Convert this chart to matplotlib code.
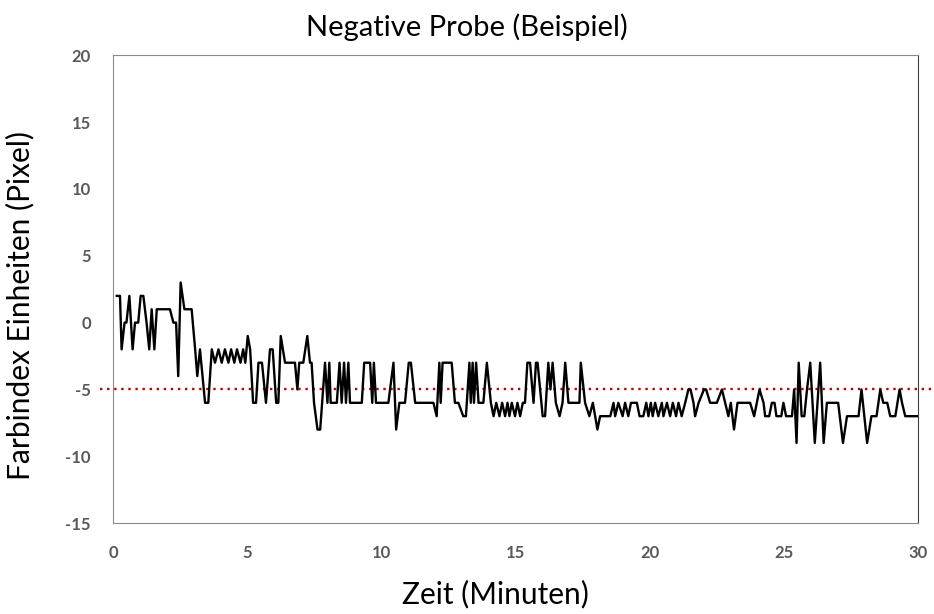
import matplotlib as mpl
mpl.use('Agg')
import matplotlib.pyplot as plt
import numpy as np

# vertices: time in minutes, colour index in pixel units
zeit = [
    0.14, 0.26, 0.32, 0.43, 0.50, 0.61, 0.73, 0.82, 0.94, 1.03, 1.13, 1.25, 1.35, 1.44, 1.54, 1.63,
    2.12, 2.25, 2.35, 2.43, 2.52, 2.66, 2.93, 3.06, 3.14, 3.24, 3.43, 3.55, 3.68, 3.80, 3.93, 4.05,
    4.17, 4.30, 4.40, 4.52, 4.62, 4.75, 4.85, 4.93, 5.02, 5.11, 5.22, 5.33, 5.42, 5.55, 5.70, 5.85,
    5.95, 6.08, 6.16, 6.25, 6.41, 6.78, 6.87, 6.94, 7.09, 7.24, 7.34, 7.40, 7.49, 7.62, 7.72, 7.90,
    7.99, 8.06, 8.11, 8.34, 8.44, 8.52, 8.61, 8.68, 8.77, 8.83, 9.27, 9.36, 9.58, 9.66, 9.72, 9.80,
    10.26, 10.45, 10.55, 10.67, 10.88, 11.02, 11.10, 11.26, 11.94, 12.06, 12.16, 12.21, 12.28, 12.62,
    12.74, 12.87, 13.05, 13.15, 13.28, 13.33, 13.40, 13.45, 13.53, 13.62, 13.80, 13.93, 14.08, 14.18,
    14.28, 14.40, 14.50, 14.61, 14.70, 14.77, 14.86, 14.98, 15.07, 15.17, 15.27, 15.35, 15.44, 15.54,
    15.67, 15.76, 15.82, 16.01, 16.10, 16.22, 16.30, 16.38, 16.50, 16.64, 16.75, 16.85, 16.97, 17.38,
    17.43, 17.59, 17.75, 17.88, 18.05, 18.15, 18.53, 18.65, 18.71, 18.83, 18.99, 19.08, 19.20, 19.30,
    19.52, 19.62, 19.76, 19.87, 19.95, 20.04, 20.11, 20.20, 20.32, 20.45, 20.51, 20.64, 20.76, 20.86,
    20.98, 21.07, 21.19, 21.32, 21.44, 21.52, 21.63, 21.69, 21.82, 22.02, 22.10, 22.25, 22.50, 22.69,
    22.81, 22.93, 23.02, 23.14, 23.27, 23.74, 23.89, 23.99, 24.09, 24.24, 24.30, 24.45, 24.55, 24.65,
    24.72, 24.90, 24.98, 25.08, 25.30, 25.38, 25.47, 25.55, 25.66, 25.76, 25.86, 25.98, 26.15, 26.35,
    26.48, 26.60, 26.70, 27.02, 27.20, 27.35, 27.78, 27.89, 28.10, 28.26, 28.45, 28.59, 28.70, 28.85,
    28.96, 29.15, 29.31, 29.40, 29.52, 29.95,
]
farbindex = [
    2, 2, -2, 0, 0, 2, -2, 0, 0, 2, 2, 0, -2, 1, -2, 1,
    1, 0, 0, -4, 3, 1, 1, -2, -4, -2, -6, -6, -2, -3, -2, -3,
    -2, -3, -2, -3, -2, -3, -2, -3, -1, -2, -6, -6, -3, -3, -6, -2,
    -2, -6, -6, -1, -3, -3, -5, -3, -3, -1, -3, -3, -6, -8, -8, -3,
    -6, -3, -6, -6, -3, -6, -3, -6, -3, -6, -6, -3, -3, -6, -3, -6,
    -6, -3, -8, -6, -6, -3, -3, -6, -6, -7, -3, -6, -3, -3,
    -6, -6, -7, -7, -3, -6, -3, -6, -3, -6, -6, -3, -6, -7,
    -6, -7, -6, -7, -6, -7, -6, -7, -6, -7, -6, -6, -3, -3,
    -6, -3, -3, -7, -7, -3, -5, -3, -6, -7, -6, -3, -6, -6,
    -3, -6, -7, -6, -8, -7, -7, -6, -7, -6, -7, -6, -7, -6,
    -6, -7, -7, -6, -7, -6, -7, -6, -7, -6, -7, -6, -7, -6,
    -7, -6, -7, -6, -5, -5, -6, -7, -6, -5, -5, -6, -6, -5,
    -6, -7, -6, -8, -6, -6, -7, -6, -5, -6, -7, -7, -6, -6,
    -7, -7, -6, -7, -7, -5, -9, -3, -7, -7, -5, -3, -9, -3,
    -9, -6, -6, -6, -9, -7, -7, -5, -9, -7, -7, -5, -6, -6,
    -7, -7, -5, -6, -7, -7,
]

grenzwert = -5
grenz_span = [-0.5, 30.6]

x_ticks = [0, 5, 10, 15, 20, 25, 30]
y_ticks = [-15, -10, -5, 0, 5, 10, 15, 20]

plt.rcParams['font.family'] = ['Lato', 'DejaVu Sans']
plt.rcParams['axes.unicode_minus'] = False

fig = plt.figure(figsize=(9.34, 6.14), dpi=100)
ax = fig.add_axes([0.121, 0.148, 0.862, 0.762])

ax.plot(zeit, farbindex, color='black', linewidth=1.7, zorder=3)
ax.plot(grenz_span, [grenzwert, grenzwert], color='#c00000', linestyle=(0, (1, 2)),
        linewidth=1.7, clip_on=False, zorder=2)

ax.set_xlim(0, 30)
ax.set_ylim(-15, 20)
ax.set_xticks(x_ticks)
ax.set_yticks(y_ticks)
ax.tick_params(length=0, labelsize=12, colors='#595959', pad=16)
for lab in ax.get_xticklabels() + ax.get_yticklabels():
    lab.set_fontweight('bold')

for side in ['left', 'bottom', 'top']:
    ax.spines[side].set_color('#8c8c8c')
ax.spines['right'].set_color('#404040')

# title is centred on the whole figure, not on the plot box
fig.suptitle("Negative Probe (Beispiel)", fontsize=21, x=0.5, y=0.956, va='center')
ax.set_xlabel("Zeit (Minuten)", fontsize=21.5, labelpad=18)
ax.xaxis.set_label_coords(0.4745, -0.12)
ax.set_ylabel("Farbindex Einheiten (Pixel)", fontsize=21.5)
ax.yaxis.set_label_coords(-0.097, 0.466)

plt.savefig("out.png", dpi=100)
